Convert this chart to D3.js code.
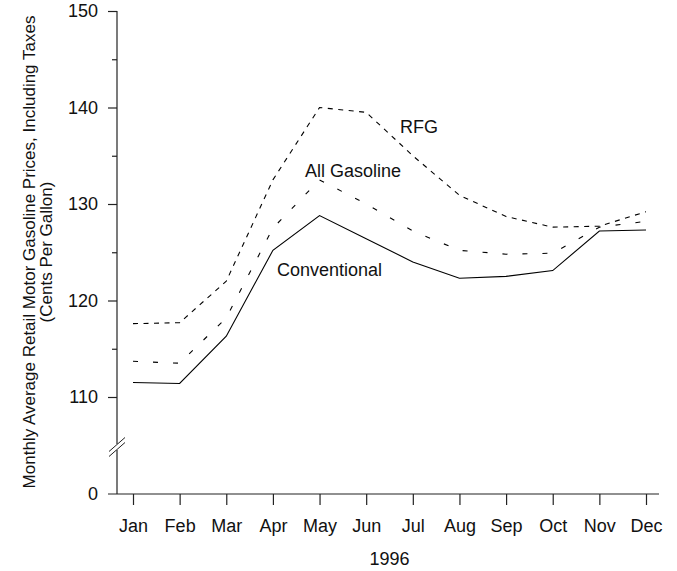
<!DOCTYPE html>
<html><head><meta charset="utf-8">
<script src="https://cdn.jsdelivr.net/npm/d3@7"></script>
<style>
html,body{margin:0;padding:0;background:#fff;}
svg text{font-family:"Liberation Sans",Arial,sans-serif;fill:#111;}
</style></head>
<body>
<svg id="chart" width="677" height="571"></svg>
<script>
const months = ["Jan","Feb","Mar","Apr","May","Jun","Jul","Aug","Sep","Oct","Nov","Dec"];
const conventional = [111.5, 111.4, 116.3, 125.2, 128.8, 126.4, 124.0, 122.3, 122.5, 123.1, 127.2, 127.3];
const allGasoline  = [113.7, 113.5, 118.2, 127.5, 132.5, 130.0, 127.2, 125.2, 124.8, 124.9, 127.6, 128.2];
const rfg          = [117.6, 117.7, 122.0, 132.5, 140.0, 139.5, 135.0, 130.9, 128.7, 127.6, 127.7, 129.2];
const majorTicks = [0, 110, 120, 130, 140, 150];
const minorTicks = [115, 125, 135, 145];
const seriesLabels = ["RFG", "All Gasoline", "Conventional"];
const xTitle = "1996";
const yTitle = ["Monthly Average Retail Motor Gasoline Prices, Including Taxes", "(Cents Per Gallon)"];

const svg = d3.select("#chart");
const FS = 18;
const axisX = 117, axisY = 494;

// broken axis: 0 sits at the bottom, 110..150 linear above the break
const y = d3.scaleLinear().domain([0, 110, 150]).range([494, 397, 11]);
const x = d3.scalePoint().domain(months).range([133, 646]);

const g = svg.append("g");

g.append("line").attr("x1", axisX).attr("x2", axisX).attr("y1", y(150)).attr("y2", axisY)
  .attr("stroke", "#222").attr("stroke-width", 1.2);
g.append("line").attr("x1", axisX - 9).attr("x2", 659).attr("y1", axisY).attr("y2", axisY)
  .attr("stroke", "#222").attr("stroke-width", 1.2);

const yAxisMajor = d3.axisLeft(y).tickValues(majorTicks.filter(d => d > 0)).tickSize(9).tickFormat(d3.format("d"));
const ga = g.append("g").attr("transform", `translate(${axisX},0)`).call(yAxisMajor);
ga.select(".domain").remove();
ga.selectAll(".tick line").attr("stroke", "#222").attr("stroke-width", 1.2);
ga.selectAll(".tick text").attr("x", -19).attr("font-size", FS)
  .attr("font-family", "Liberation Sans, Arial, sans-serif").attr("fill", "#111");

const yAxisMinor = d3.axisLeft(y).tickValues(minorTicks).tickSize(5).tickFormat("");
const gm = g.append("g").attr("transform", `translate(${axisX},0)`).call(yAxisMinor);
gm.select(".domain").remove();
gm.selectAll(".tick line").attr("stroke", "#222").attr("stroke-width", 1.2);

g.append("text").attr("x", axisX - 19).attr("y", y(0)).attr("dy", "0.32em")
  .attr("text-anchor", "end").attr("font-size", FS).text(d3.format("d")(majorTicks[0]));

// axis break
const by = 447;
g.append("line").attr("x1", axisX).attr("x2", axisX).attr("y1", by - 3).attr("y2", by + 3)
  .attr("stroke", "#fff").attr("stroke-width", 3);
[-2.5, 2.5].forEach(o => {
  g.append("line").attr("x1", axisX - 8).attr("y1", by + o + 7).attr("x2", axisX + 8).attr("y2", by + o - 7)
    .attr("stroke", "#222").attr("stroke-width", 1);
});

const xAxis = d3.axisBottom(x).tickSize(11).tickPadding(14);
const gx = g.append("g").attr("transform", `translate(0,${axisY})`).call(xAxis);
gx.select(".domain").remove();
gx.selectAll(".tick line").attr("stroke", "#222").attr("stroke-width", 1.2);
gx.selectAll(".tick text").attr("font-size", FS)
  .attr("font-family", "Liberation Sans, Arial, sans-serif").attr("fill", "#111");

g.append("text").attr("x", (x("Jan") + x("Dec")) / 2).attr("y", 565)
  .attr("text-anchor", "middle").attr("font-size", FS).text(xTitle);

const yt = g.append("text").attr("transform", "translate(0,252) rotate(-90)")
  .attr("text-anchor", "middle").attr("font-size", 17);
yt.append("tspan").attr("x", 0).attr("y", 35).text(yTitle[0]);
yt.append("tspan").attr("x", 0).attr("y", 52).text(yTitle[1]);

const line = d3.line().x((d, i) => x(months[i])).y(d => y(d));
const series = [
  {vals: rfg, dash: "5,5.5"},
  {vals: allGasoline, dash: "5,15"},
  {vals: conventional, dash: null}
];
series.forEach(s => {
  g.append("path").datum(s.vals).attr("d", line).attr("fill", "none")
    .attr("stroke", "#000").attr("stroke-width", 1.1)
    .attr("stroke-dasharray", s.dash);
});

g.append("text").attr("x", 400).attr("y", 133).attr("font-size", FS).text(seriesLabels[0]);
g.append("text").attr("x", 305).attr("y", 177).attr("font-size", FS).text(seriesLabels[1]);
g.append("text").attr("x", 277).attr("y", 276).attr("font-size", FS).text(seriesLabels[2]);
</script>
</body></html>
